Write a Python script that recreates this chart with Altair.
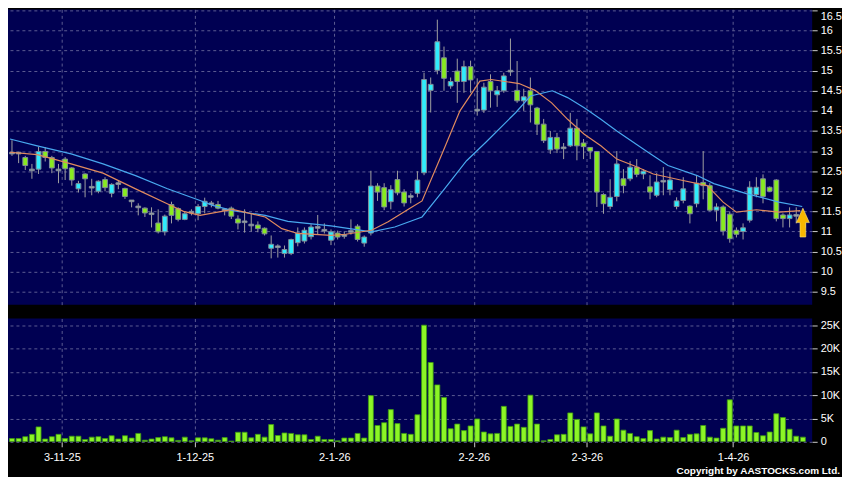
import altair as alt
import pandas as pd
import numpy as np

# ---------------- data ----------------
opens = [12.95, 12.95, 12.84, 12.53, 12.55, 12.99, 12.84, 12.53, 12.80, 12.58,
         12.06, 12.43, 12.10, 12.00, 12.29, 11.95, 12.19, 12.07, 11.76, 11.61,
         11.58, 11.44, 11.21, 10.99, 11.67, 11.57, 11.30, 11.48, 11.44, 11.62,
         11.69, 11.67, 11.54, 11.58, 11.31, 11.24, 11.16, 11.16, 11.08, 10.58,
         10.62, 10.45, 10.45, 10.72, 10.76, 10.87, 11.10, 11.03, 10.78, 10.96,
         10.90, 11.00, 11.13, 10.71, 10.96, 12.13, 12.09, 11.74, 12.29, 11.98,
         11.87, 11.95, 12.46, 14.51, 15.01, 15.32, 14.62, 14.99, 14.73, 15.10,
         14.02, 14.02, 14.73, 14.40, 14.50, 14.99, 14.51, 14.25, 14.50, 14.07,
         13.67, 13.03, 13.34, 13.08, 13.13, 13.57, 13.20, 13.09, 12.99, 11.92,
         11.62, 11.87, 12.31, 12.31, 12.60, 12.43, 12.11, 11.90, 12.25, 12.04,
         11.62, 11.77, 11.63, 11.69, 12.22, 12.14, 11.53, 11.61, 11.43, 11.03,
         11.00, 11.28, 11.92, 12.31, 12.10, 12.28, 11.41, 11.32, 11.40, 11.10]
highs = [13.27, 12.98, 12.88, 12.68, 13.10, 13.10, 12.88, 12.68, 12.85, 12.60,
         12.26, 12.45, 12.31, 12.27, 12.35, 12.20, 12.28, 12.09, 11.78, 11.70,
         11.60, 11.60, 11.55, 11.42, 11.74, 11.60, 11.50, 11.55, 11.68, 11.84,
         11.76, 11.76, 11.56, 11.62, 11.40, 11.55, 11.45, 11.25, 11.10, 10.90,
         10.68, 10.65, 10.82, 11.10, 11.10, 11.18, 11.41, 11.20, 11.05, 11.02,
         11.00, 11.30, 11.18, 10.90, 12.51, 12.20, 12.20, 12.15, 12.51, 12.05,
         11.95, 12.50, 14.95, 14.83, 16.27, 15.60, 14.83, 15.30, 15.25, 15.25,
         14.81, 14.70, 14.91, 14.62, 14.95, 15.80, 15.24, 14.55, 14.83, 14.10,
         13.80, 13.50, 13.45, 13.20, 13.95, 13.80, 13.30, 13.10, 13.00, 11.95,
         12.30, 13.00, 12.55, 12.75, 12.80, 12.55, 12.40, 12.45, 12.60, 12.47,
         11.85, 12.35, 11.65, 12.40, 13.00, 12.20, 11.70, 11.65, 11.50, 11.10,
         11.20, 12.25, 12.35, 12.42, 12.12, 12.30, 11.45, 11.60, 11.60, 11.55]
lows = [12.88, 12.70, 12.53, 12.31, 12.43, 12.74, 12.45, 12.20, 12.28, 12.14,
        11.97, 11.85, 11.90, 11.95, 12.00, 11.85, 12.05, 11.81, 11.60, 11.40,
        11.36, 11.10, 10.95, 10.90, 11.20, 11.25, 11.28, 11.40, 11.28, 11.45,
        11.60, 11.55, 11.40, 11.31, 11.05, 10.97, 11.00, 10.98, 10.90, 10.33,
        10.35, 10.35, 10.41, 10.63, 10.70, 10.80, 10.92, 10.95, 10.66, 10.80,
        10.82, 10.92, 10.75, 10.62, 10.90, 11.76, 11.53, 11.55, 11.90, 11.62,
        11.70, 11.85, 12.40, 13.96, 14.91, 14.50, 14.55, 14.20, 14.45, 14.45,
        13.88, 13.95, 14.08, 14.10, 14.45, 14.87, 14.20, 14.00, 13.71, 13.40,
        13.20, 12.93, 12.95, 12.80, 13.10, 12.77, 12.80, 12.80, 11.61, 11.44,
        11.55, 11.75, 11.95, 12.25, 12.35, 12.30, 11.80, 11.85, 11.90, 11.90,
        11.55, 11.70, 11.20, 11.60, 11.80, 11.50, 11.25, 10.90, 10.72, 10.85,
        10.80, 11.22, 11.85, 11.70, 11.98, 11.25, 11.10, 11.10, 11.20, 11.05]
closes = [12.95, 12.95, 12.64, 12.53, 12.99, 12.84, 12.58, 12.53, 12.56, 12.28,
          12.19, 12.31, 12.10, 12.25, 12.09, 12.17, 12.19, 11.87, 11.76, 11.61,
          11.46, 11.44, 10.99, 11.38, 11.40, 11.30, 11.44, 11.48, 11.62, 11.75,
          11.69, 11.58, 11.54, 11.38, 11.21, 11.24, 11.16, 11.07, 10.94, 10.68,
          10.62, 10.55, 10.80, 10.96, 11.03, 11.11, 11.10, 11.03, 10.99, 10.86,
          10.90, 11.00, 10.80, 10.86, 12.13, 11.98, 11.61, 12.04, 11.96, 11.71,
          11.87, 12.28, 14.78, 14.66, 15.72, 14.81, 14.73, 14.73, 15.10, 14.77,
          14.02, 14.59, 14.50, 14.50, 14.87, 14.99, 14.25, 14.35, 14.15, 13.67,
          13.26, 13.34, 13.05, 13.08, 13.57, 13.13, 13.11, 13.00, 11.98, 11.69,
          11.85, 12.68, 12.14, 12.60, 12.42, 12.50, 11.98, 12.23, 12.25, 12.28,
          11.76, 12.06, 11.44, 12.20, 12.14, 11.53, 11.61, 11.01, 10.82, 10.93,
          11.09, 12.10, 12.10, 11.87, 12.00, 11.32, 11.32, 11.41, 11.40, 11.24]
volumes_k = [0.7, 0.7, 1.1, 1.6, 3.2, 0.6, 1.1, 1.6, 0.7, 1.2,
             1.2, 0.5, 1.0, 1.1, 0.7, 1.3, 0.6, 1.3, 0.8, 1.8,
             0.35, 0.6, 0.9, 1.1, 0.85, 0.3, 1.0, 0.2, 0.85, 0.85,
             0.65, 0.35, 0.9, 0.15, 2.05, 2.05, 0.85, 1.6, 1.0, 3.7,
             1.35, 1.9, 1.8, 1.5, 1.5, 0.5, 1.2, 0.5, 0.5, 0.2,
             0.8, 0.8, 1.8, 0.8, 9.9, 3.5, 4.1, 6.9, 3.9, 1.8,
             1.6, 5.8, 25.0, 17.0, 12.2, 9.5, 2.8, 3.8, 2.4, 3.4,
             4.9, 2.1, 1.7, 1.8, 7.6, 3.3, 3.8, 3.1, 10.0, 3.8,
             0.2, 0.5, 1.5, 1.6, 6.2, 4.8, 3.2, 1.7, 6.2, 3.4,
             1.2, 4.9, 2.5, 1.8, 1.1, 0.7, 2.4, 0.6, 1.0, 0.9,
             2.5, 0.9, 1.6, 1.7, 3.5, 1.0, 0.8, 2.9, 9.0, 3.4,
             3.4, 3.4, 2.0, 1.3, 2.1, 6.0, 5.2, 2.7, 1.2, 1.0]

# first trading day of each labelled month (bar index) and its label
tick_first_idx = [8, 28, 49, 70, 87, 109]
tick_labels = ["3-11-25", "1-12-25", "2-1-26", "2-2-26", "2-3-26", "1-4-26"]

# moving-average lines (bar index, price)
ma_fast_idx = [-0.3, 3.8, 8.9, 13.7, 18.6, 23.6, 25.8, 28.3, 33.2, 38.1, 40.6, 43.0,
               48.0, 50.2, 54.1, 56.6, 60.0, 61.7, 64.9, 67.4, 70.4, 72.1, 76.3, 78.7,
               81.2, 83.6, 86.1, 88.6, 91.0, 93.5, 96.5, 100.6, 104.6, 107.0, 109.0,
               112.0, 115.4, 118.6]
ma_fast_val = [12.97, 12.91, 12.68, 12.45, 12.06, 11.67, 11.50, 11.40, 11.55, 11.36, 11.07, 10.95,
               10.90, 10.93, 11.03, 11.24, 11.59, 11.76, 13.01, 14.00, 14.74, 14.78, 14.68, 14.51,
               14.20, 13.79, 13.42, 13.13, 12.80, 12.64, 12.43, 12.28, 12.14, 11.73, 11.48,
               11.54, 11.48, 11.52]
ma_slow_idx = [-0.3, 3.8, 8.9, 13.7, 18.6, 23.3, 28.3, 30.2, 33.2, 38.1, 41.5, 48.0,
               54.1, 57.6, 61.7, 64.9, 68.4, 71.3, 75.8, 78.0, 81.3, 83.6, 86.1, 88.6,
               91.0, 95.7, 98.7, 103.1, 105.6, 110.5, 115.4, 118.9]
ma_slow_val = [13.30, 13.13, 12.93, 12.68, 12.39, 12.07, 11.77, 11.65, 11.52, 11.40, 11.25, 11.14,
               10.99, 11.11, 11.36, 12.02, 12.76, 13.22, 13.96, 14.37, 14.50, 14.33, 14.08, 13.79,
               13.50, 12.97, 12.64, 12.39, 12.19, 11.94, 11.73, 11.62]

price_ticks = [9.5, 10, 10.5, 11, 11.5, 12, 12.5, 13, 13.5, 14, 14.5, 15, 15.5, 16, 16.5]
volume_ticks_k = [0, 5, 10, 15, 20, 25]

marker_idx = [119.0]
marker_price = [11.22]
copyright_text = "Copyright by AASTOCKS.com Ltd."

# ---------------- tables ----------------
n = len(opens)
df = pd.DataFrame({"idx": np.arange(n), "open": opens, "high": highs,
                   "low": lows, "close": closes,
                   "vol": [v * 1000 for v in volumes_k]})
df["dir"] = np.where(df["close"] > df["open"], "up",
                     np.where(df["close"] < df["open"], "down", "flat"))
df["body_lo"] = df[["open", "close"]].min(axis=1)
df["body_hi"] = df[["open", "close"]].max(axis=1)
flat = df["dir"] == "flat"
df.loc[flat, "body_lo"] -= 0.02
df.loc[flat, "body_hi"] += 0.02

fast_df = pd.DataFrame({"idx": ma_fast_idx, "val": ma_fast_val})
slow_df = pd.DataFrame({"idx": ma_slow_idx, "val": ma_slow_val})
marker_df = pd.DataFrame({"idx": marker_idx, "val": marker_price})
copy_df = pd.DataFrame({"t": [copyright_text]})

grid_vals = [t - 0.5 for t in tick_first_idx]
label_expr = " : ".join(
    f"abs(datum.value - {p}) < 0.01 ? '{l}'" for p, l in zip(grid_vals, tick_labels)
) + " : ''"

# ---------------- scales / axes ----------------
FONT = "Liberation Sans"
xscale = alt.Scale(domain=[0.15, n - 0.35], nice=False, zero=False)
price_scale = alt.Scale(domain=[9.179, 16.525], nice=False, zero=False)
vol_scale = alt.Scale(domain=[0, 26420], nice=False, zero=True)

x_top_axis = alt.Axis(values=grid_vals, labels=False, ticks=False, domain=False,
                      grid=True, title=None)
y_price_axis = alt.Axis(orient="right", values=price_ticks, format="~g", title=None,
                        tickSize=5, labelPadding=3, grid=True,
                        labelBaseline={"condition": {"test": "datum.value >= 16.4", "value": "top"},
                                       "value": "middle"})


def px(field):
    return alt.X(field, scale=xscale, axis=x_top_axis)


def py(field):
    return alt.Y(field, scale=price_scale, axis=y_price_axis)


W = 809
H_PRICE = 297
H_VOL = 124

wick = alt.Chart(df).mark_rule(color="#a0a0a0", strokeWidth=1, clip=True).encode(
    x=px("idx:Q"), y=py("low:Q"), y2="high:Q")
body = alt.Chart(df).mark_bar(orient="vertical", size=4.8, stroke="#7f8b98",
                              strokeWidth=1, clip=True).encode(
    x=px("idx:Q"), y=py("body_lo:Q"), y2="body_hi:Q",
    color=alt.Color("dir:N", scale=alt.Scale(domain=["up", "down", "flat"],
                                             range=["#30ecfc", "#88ea20", "#a8a8a8"]),
                    legend=None))
slow_line = alt.Chart(slow_df).mark_line(color="#48a8ee", strokeWidth=1.2, clip=True).encode(
    x=px("idx:Q"), y=py("val:Q"))
fast_line = alt.Chart(fast_df).mark_line(color="#e08a5e", strokeWidth=1.2, clip=True).encode(
    x=px("idx:Q"), y=py("val:Q"))
arrow_path = "M-0.2,1 L-0.2,0 L-0.45,0 L0,-1 L0.45,0 L0.2,0 L0.2,1 Z"
marker = alt.Chart(marker_df).mark_point(shape=arrow_path, filled=True, fill="#f8b800",
                                         stroke="#ffe680", strokeWidth=0.6, size=841,
                                         opacity=1).encode(
    x=px("idx:Q"), y=py("val:Q"))

price = alt.layer(wick, body, slow_line, fast_line, marker).properties(
    width=W, height=H_PRICE)

x_bottom_axis = alt.Axis(values=grid_vals, labelExpr=label_expr, title=None, tickSize=5,
                         labelPadding=5, grid=True, domain=False, labelFlush=False,
                         tickColor="#cccccc")
y_vol_axis = alt.Axis(orient="right", values=[v * 1000 for v in volume_ticks_k], title=None,
                      tickSize=5, labelPadding=3, grid=True,
                      labelExpr="datum.value == 0 ? '0' : format(datum.value / 1000, 'd') + 'K'")

vol_bars = alt.Chart(df).mark_bar(orient="vertical", size=5, fill="#8cf526",
                                  stroke="#3d9a12", strokeWidth=0.8, clip=True).encode(
    x=alt.X("idx:Q", scale=xscale, axis=x_bottom_axis),
    y=alt.Y("vol:Q", scale=vol_scale, axis=y_vol_axis))
copyright_mark = alt.Chart(copy_df).mark_text(
    align="right", baseline="middle", font=FONT, fontSize=10, fontWeight="bold",
    color="#ffffff").encode(x=alt.value(837), y=alt.value(153), text="t:N")

volume = alt.layer(vol_bars, copyright_mark).properties(width=W, height=H_VOL)

chart = alt.vconcat(price, volume, spacing=14).properties(
    padding={"left": 0, "top": 0, "right": 0, "bottom": 0}
).configure(background="#000000").configure_view(
    fill="#000052", stroke=None
).configure_axis(
    labelColor="#ffffff", labelFont=FONT, labelFontSize=11, tickColor="#cccccc",
    gridColor="#5c5c92", gridDash=[3, 3], gridWidth=1, domain=False
)

chart.save("out.html", embed_options={"renderer": "svg", "actions": False})
